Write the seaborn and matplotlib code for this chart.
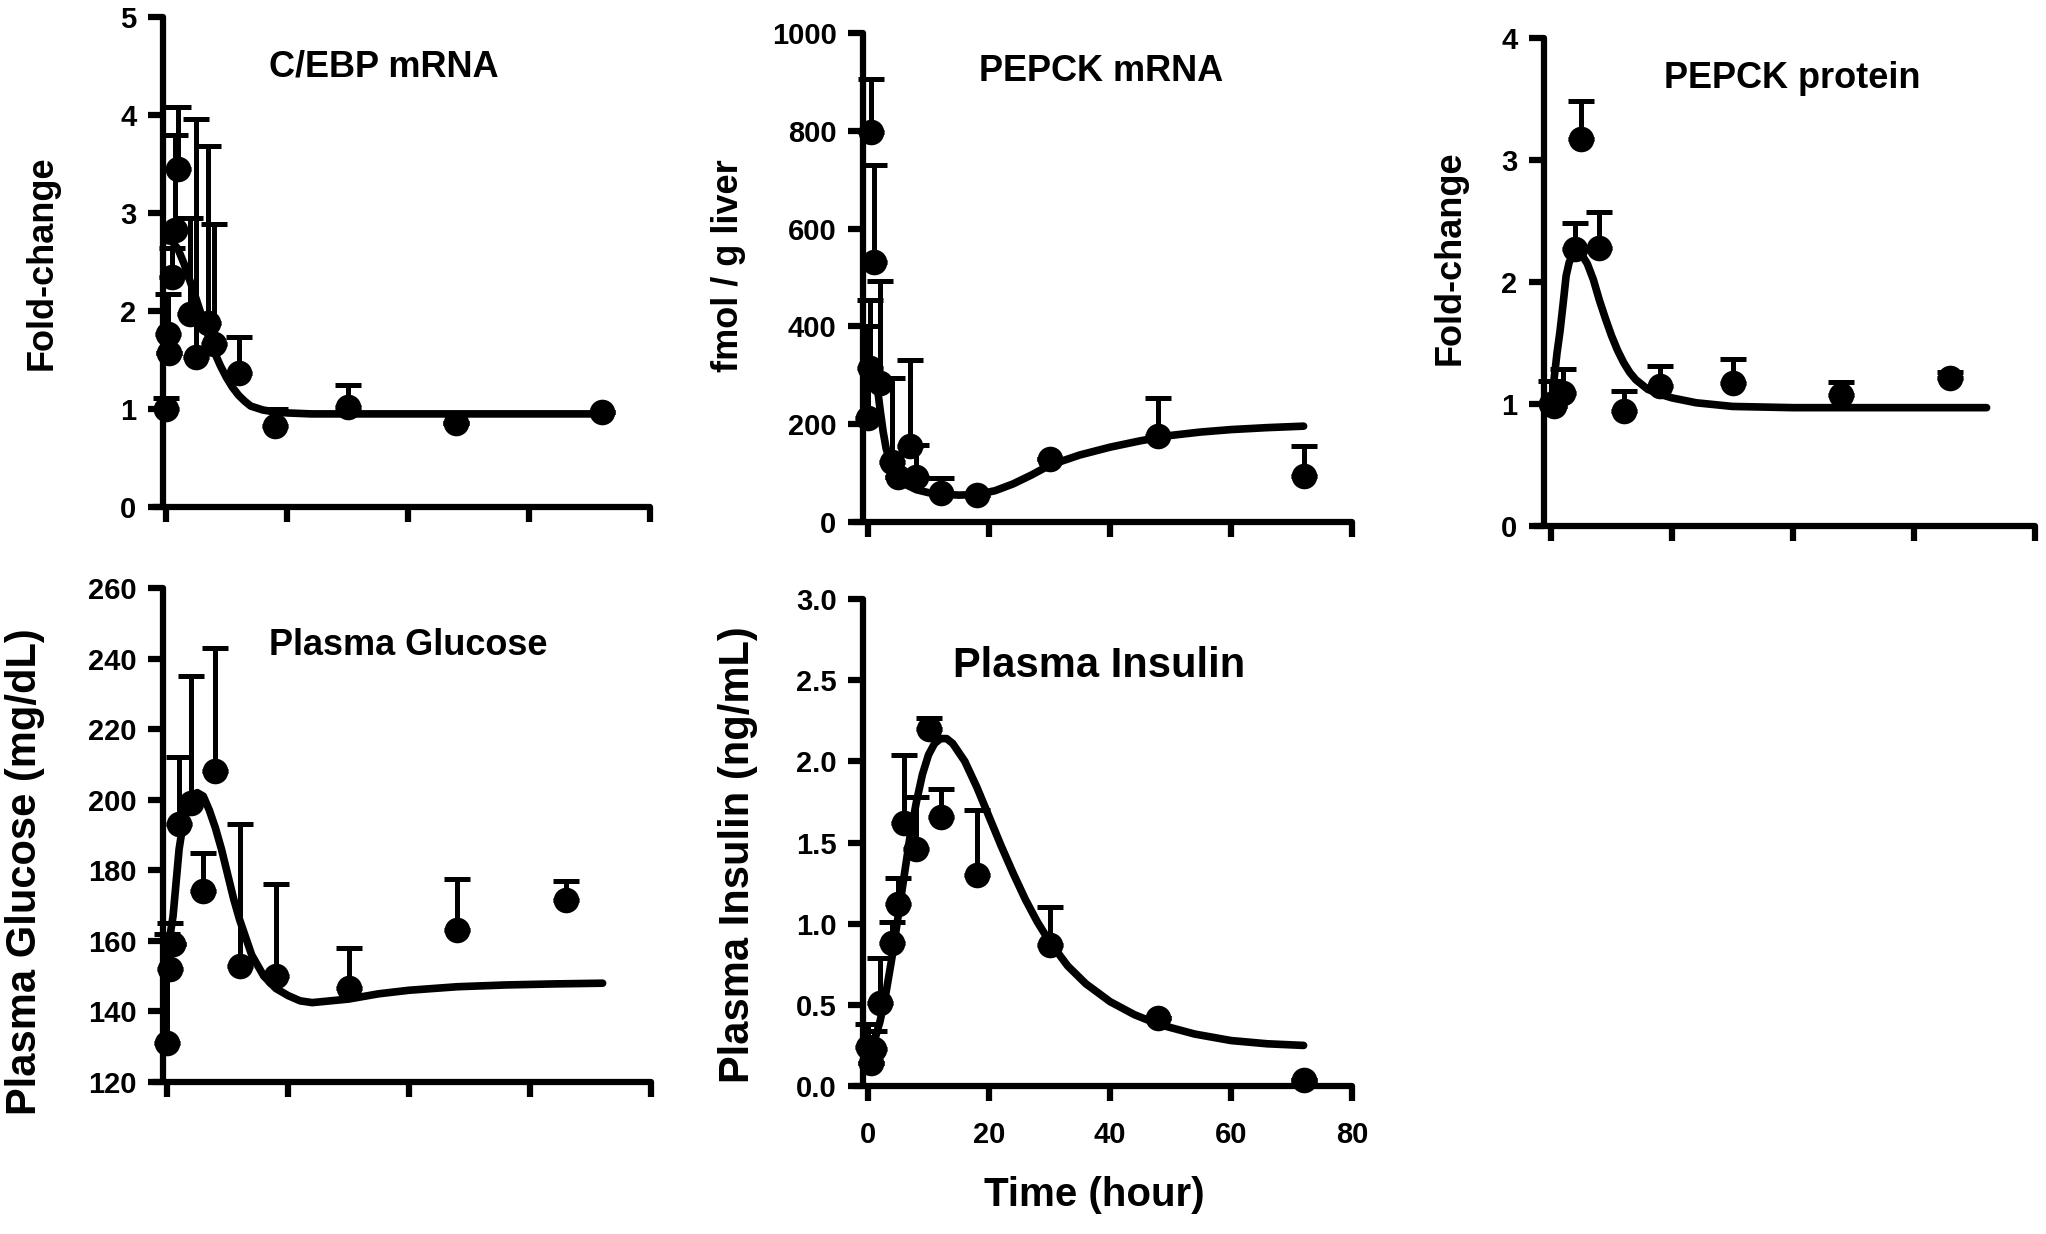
import numpy as np
import pandas as pd
import seaborn as sns
import matplotlib.pyplot as plt
from matplotlib.ticker import FormatStrFormatter

# C/EBP mRNA (fold-change)
cebp_t = [0, 0.25, 0.5, 1, 1.5, 2, 4, 5, 7, 8, 12, 18, 30, 48, 72]
cebp_mean = [1.0, 1.77, 1.57, 2.35, 2.83, 3.45, 1.97, 1.53, 1.88, 1.66, 1.37, 0.83, 1.02, 0.86, 0.97]
cebp_upper = [1.11, 2.17, 1.57, 2.64, 3.8, 4.08, 2.95, 3.96, 3.68, 2.89, 1.73, 1.0, 1.24, 0.86, 0.97]
cebp_fit_t = [0, 1, 2, 3, 4, 5, 6, 7, 8, 9, 10, 11, 12, 13, 14, 16, 18, 20, 24, 30, 40, 50, 60, 72]
cebp_fit = [2.72, 2.71, 2.63, 2.48, 2.3, 2.12, 1.93, 1.75, 1.58, 1.44, 1.32, 1.22, 1.14, 1.08, 1.03,
            0.99, 0.97, 0.96, 0.95, 0.95, 0.95, 0.95, 0.95, 0.95]

# PEPCK mRNA (fmol / g liver)
pm_t = [0, 0.25, 0.5, 1, 2, 4, 5, 7, 8, 12, 18, 30, 48, 72]
pm_mean = [213, 315, 798, 532, 285, 123, 92, 155, 92, 59, 55, 128, 176, 95]
pm_upper = [400, 455, 905, 730, 492, 294, 92, 331, 157, 90, 55, 128, 254, 155]
pm_fit_t = [0, 0.5, 1, 1.5, 2, 2.5, 3, 4, 5, 6, 8, 10, 12, 15, 18, 21, 24, 27, 30, 35, 40, 45, 50, 55, 60, 66, 72]
pm_fit = [300, 330, 320, 280, 230, 185, 150, 112, 90, 78, 66, 60, 57, 55, 56, 64, 78, 96, 116, 137, 153,
          166, 177, 184, 189, 193, 196]

# PEPCK protein (fold-change)
pp_t = [0, 0.5, 2, 4, 5, 8, 12, 18, 30, 48, 66]
pp_mean = [1.0, 0.98, 1.09, 2.27, 3.17, 2.28, 0.94, 1.15, 1.17, 1.07, 1.21]
pp_upper = [1.19, 0.98, 1.29, 2.48, 3.48, 2.57, 1.11, 1.31, 1.37, 1.18, 1.26]
pp_fit_t = [0, 0.5, 1, 1.5, 2, 2.5, 3, 3.5, 4, 4.5, 5, 6, 7, 8, 9, 10, 11, 12, 13, 14, 16, 18, 20, 24, 30,
            40, 50, 60, 72]
pp_fit = [0.98, 1.2, 1.42, 1.6, 1.82, 2.05, 2.16, 2.21, 2.24, 2.25, 2.23, 2.15, 2.02, 1.85, 1.7, 1.56,
          1.44, 1.34, 1.26, 1.2, 1.12, 1.08, 1.05, 1.01, 0.98, 0.97, 0.97, 0.97, 0.97]

# Plasma glucose (mg/dL)
gl_t = [0, 0.5, 1, 2, 4, 6, 8, 12, 18, 30, 48, 66]
gl_mean = [131, 152, 159, 193, 199, 174, 208, 153, 150, 146.5, 163, 171.5]
gl_upper = [162, 165, 159, 212, 235, 185, 243, 193, 176, 158, 177.5, 177]
gl_fit_t = [0, 1, 2, 3, 4, 5, 6, 7, 8, 9, 10, 11, 12, 13, 14, 16, 18, 20, 22, 24, 27, 30, 35, 40, 48,
            56, 64, 72]
gl_fit = [156, 167, 186, 197, 201, 202, 201, 197, 192, 186, 179, 172, 166, 161, 156, 150, 146.5, 144.5,
          143, 142.5, 143, 143.5, 145, 146, 147, 147.5, 147.8, 148]

# Plasma insulin (ng/mL)
ins_t = [0, 0.5, 1, 2, 4, 5, 6, 8, 10, 12, 18, 30, 48, 72]
ins_mean = [0.24, 0.14, 0.23, 0.51, 0.88, 1.12, 1.62, 1.46, 2.2, 1.66, 1.3, 0.87, 0.42, 0.04]
ins_upper = [0.38, 0.14, 0.34, 0.79, 1.01, 1.28, 2.04, 1.78, 2.27, 1.83, 1.7, 1.1, 0.42, 0.04]
ins_fit_t = [0, 1, 2, 3, 4, 5, 6, 7, 8, 9, 10, 11, 12, 13, 14, 16, 18, 20, 22, 24, 26, 28, 30, 33, 36,
             40, 44, 48, 54, 60, 66, 72]
ins_fit = [0.2, 0.27, 0.4, 0.58, 0.8, 1.05, 1.3, 1.55, 1.75, 1.92, 2.04, 2.11, 2.14, 2.14, 2.11, 2.0,
           1.84, 1.66, 1.48, 1.31, 1.15, 1.01, 0.89, 0.74, 0.63, 0.52, 0.44, 0.38, 0.32, 0.28, 0.26, 0.25]

W, H = 2046, 1234
PXH = 6.05  # pixels per hour on every time axis

sns.set_style("ticks")
plt.rcParams['font.family'] = ['Liberation Sans', 'DejaVu Sans']
plt.rcParams['font.weight'] = 'bold'
for key in ['text.color', 'axes.labelcolor', 'xtick.color', 'ytick.color', 'axes.edgecolor']:
    plt.rcParams[key] = 'black'

fig = plt.figure(figsize=(W / 100, H / 100), dpi=100)


def make_ax(yaxis_px, t0_px, bottom_px, top_px, ylim, yticks, xlabels=False, fmt=None):
    left_px = yaxis_px - 10
    right_px = t0_px + 80 * PXH
    ax = fig.add_axes([left_px / W, 1 - bottom_px / H, (right_px - left_px) / W, (bottom_px - top_px) / H])
    ax.set_xlim((left_px - t0_px) / PXH, 80)
    ax.set_ylim(*ylim)
    sns.despine(ax=ax)
    ax.spines['left'].set_position(('data', (yaxis_px - t0_px) / PXH))
    for s in ['left', 'bottom']:
        ax.spines[s].set_linewidth(4.5)
        ax.spines[s].set_capstyle('round')
    ax.set_xticks([0, 20, 40, 60, 80])
    ax.set_yticks(yticks)
    ax.tick_params(width=4.5, length=11, labelsize=21, pad=8, colors='black')
    ax.tick_params(axis='x', labelbottom=xlabels, pad=14)
    if fmt:
        ax.yaxis.set_major_formatter(FormatStrFormatter(fmt))
    for lab in ax.get_xticklabels() + ax.get_yticklabels():
        lab.set_fontweight('bold')
    ax.patch.set_alpha(0)
    return ax


def draw(ax, t, mean, upper, fit_t, fit_v):
    hi = np.array(upper) - np.array(mean)
    ax.errorbar(t, mean, yerr=[np.zeros(len(mean)), hi], fmt='none', ecolor='black',
                elinewidth=3.6, capsize=9.5, capthick=3.6, clip_on=False)
    fit = pd.DataFrame({'t': fit_t, 'v': fit_v})
    sns.lineplot(data=fit, x='t', y='v', ax=ax, color='black', lw=5.5, sort=False,
                 solid_capstyle='round', solid_joinstyle='round')
    pts = pd.DataFrame({'t': t, 'v': mean})
    sns.scatterplot(data=pts, x='t', y='v', ax=ax, color='black', s=340, linewidth=0,
                    clip_on=False, zorder=3)
    ax.set_xlabel('')
    ax.set_ylabel('')


def ylab(x, y, text, size=26):
    fig.text(x / W, 1 - y / H, text, rotation=90, ha='center', va='center', fontsize=size, fontweight='bold')


ax1 = make_ax(163, 166, 507, 17, (0, 5), [0, 1, 2, 3, 4, 5])
draw(ax1, cebp_t, cebp_mean, cebp_upper, cebp_fit_t, cebp_fit)
ax1.text(36, 4.49, 'C/EBP mRNA', ha='center', va='center', fontsize=26, fontweight='bold')
ylab(42, 263, 'Fold-change')

ax2 = make_ax(863, 868, 522, 33, (0, 1000), [0, 200, 400, 600, 800, 1000])
draw(ax2, pm_t, pm_mean, pm_upper, pm_fit_t, pm_fit)
ax2.text(38.5, 922, 'PEPCK mRNA', ha='center', va='center', fontsize=26, fontweight='bold')
ylab(729, 266, 'fmol / g liver')

ax3 = make_ax(1544, 1551, 526, 38, (0, 4), [0, 1, 2, 3, 4])
draw(ax3, pp_t, pp_mean, pp_upper, pp_fit_t, pp_fit)
ax3.text(39.8, 3.67, 'PEPCK protein', ha='center', va='center', fontsize=26, fontweight='bold')
ylab(1450, 258, 'Fold-change')

ax4 = make_ax(163, 167, 1082, 588, (120, 260), [120, 140, 160, 180, 200, 220, 240, 260])
draw(ax4, gl_t, gl_mean, gl_upper, gl_fit_t, gl_fit)
ax4.text(39.8, 243.6, 'Plasma Glucose', ha='center', va='center', fontsize=26, fontweight='bold')
ylab(25, 872, 'Plasma Glucose (mg/dL)', size=30)

ax5 = make_ax(863, 868, 1086, 599, (0, 3), [0, 0.5, 1, 1.5, 2, 2.5, 3], xlabels=True, fmt='%.1f')
draw(ax5, ins_t, ins_mean, ins_upper, ins_fit_t, ins_fit)
ax5.text(38.2, 2.59, 'Plasma Insulin', ha='center', va='center', fontsize=30, fontweight='bold')
ylab(738, 855, 'Plasma Insulin (ng/mL)', size=30)

fig.text(1094 / W, 1 - 1195 / H, 'Time (hour)', ha='center', va='center', fontsize=29, fontweight='bold')

fig.savefig('out.png', dpi=100, facecolor='white')
